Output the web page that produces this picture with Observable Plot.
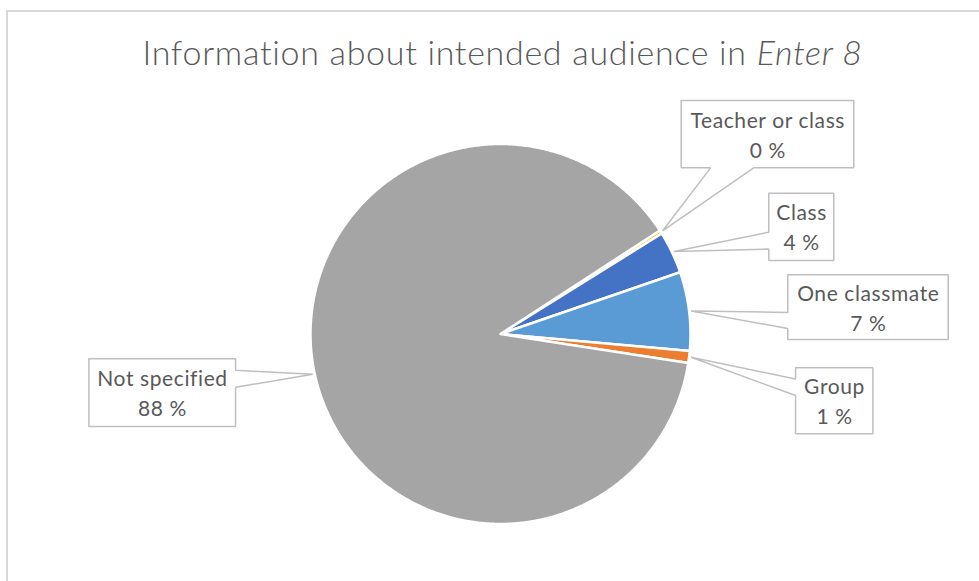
<!DOCTYPE html>
<html>
<head>
<meta charset="utf-8">
<script src="https://cdn.jsdelivr.net/npm/d3@7"></script>
<script src="https://cdn.jsdelivr.net/npm/@observablehq/plot@0.6"></script>
<style>
  html, body { margin: 0; padding: 0; background: #fff; }
  #wrap { position: relative; width: 979px; height: 581px; overflow: hidden; }
  #frame { position: absolute; left: 6px; top: 10px; width: 1200px; height: 800px;
           border-top: 2px solid #d9d9d9; border-left: 2px solid #d9d9d9; box-sizing: border-box; }
  #title { position: absolute; left: 0; width: 1005px; top: 31px; text-align: center;
           font-family: Lato, "Open Sans", sans-serif; font-weight: 300; font-size: 34px;
           letter-spacing: 0.7px; line-height: 41px; color: #595959; white-space: nowrap; z-index: 2; }
  #chart { position: absolute; left: 0; top: 0; z-index: 1; }
  #chart text { letter-spacing: 0.6px; }
</style>
</head>
<body>
<div id="wrap">
  <div id="frame"></div>
  <div id="chart"></div>
  <div id="title">Information about intended audience in <i>Enter 8</i></div>
</div>
<script>
// ---- data ----
const names  = ["Teacher or class", "Class", "One classmate", "Group", "Not specified"];
const values = [0.3, 3.6, 6.7, 1.0, 88.4];
const colors = ["#FFC000", "#4472C4", "#5B9BD5", "#ED7D31", "#A5A5A5"];

// ---- layout (pixel space of the 979x581 canvas) ----
const CX = 500, CY = 333.5, R = 190, START_DEG = 57;
const boxCX = [767, 800.8, 867.5, 833.7, 161.7];
const boxCY = [133.7, 226.3, 306.7, 400.3, 392.2];
const boxW  = [172.6, 65, 160.4, 77.3, 146.7];
const boxH  = [67.3, 67.3, 64.7, 66, 67.7];

const rows = names.map((n, i) => ({name: n, value: values[i]}));
const a0 = START_DEG * Math.PI / 180;
const arcs = d3.pie().sort(null).value(d => d.value).startAngle(a0).endAngle(a0 + 2 * Math.PI)(rows);

const pt = (t, r) => ({x: CX + r * Math.sin(t), y: CY - r * Math.cos(t)});

// slice polygons
const slicePts = arcs.flatMap(a => {
  const n = Math.max(2, Math.ceil((a.endAngle - a.startAngle) / (Math.PI / 360)));
  const pts = [{name: a.data.name, x: CX, y: CY}];
  for (let k = 0; k <= n; k++) {
    const t = a.startAngle + (a.endAngle - a.startAngle) * k / n;
    pts.push({name: a.data.name, ...pt(t, R)});
  }
  pts.push({name: a.data.name, x: CX, y: CY});
  return pts;
});

// callout polygons (rectangle + wedge toward slice mid-angle)
const labels = arcs.map((a, i) => {
  const mid = (a.startAngle + a.endAngle) / 2;
  return {name: a.data.name, value: a.data.value, tip: pt(mid, R + 2),
          cx: boxCX[i], cy: boxCY[i], w: boxW[i], h: boxH[i]};
});
const calloutPts = labels.flatMap(L => {
  const l = L.cx - L.w / 2, r = L.cx + L.w / 2, t = L.cy - L.h / 2, b = L.cy + L.h / 2;
  const dx = L.tip.x - L.cx, dy = L.tip.y - L.cy;
  const horiz = Math.abs(dx) / (L.w / 2) > Math.abs(dy) / (L.h / 2);
  let edge, f0, f1;
  if (horiz) {
    edge = dx > 0 ? "right" : "left";
    [f0, f1] = L.tip.y > L.cy ? [0.58, 0.83] : [0.17, 0.42];
  } else {
    edge = dy > 0 ? "bottom" : "top";
    [f0, f1] = L.tip.x > L.cx ? [0.58, 0.83] : [0.17, 0.42];
  }
  const P = (x, y) => ({name: L.name, x, y});
  const tip = P(L.tip.x, L.tip.y);
  const pts = [P(l, t)];
  if (edge === "top") pts.push(P(l + f0 * L.w, t), tip, P(l + f1 * L.w, t));
  pts.push(P(r, t));
  if (edge === "right") pts.push(P(r, t + f0 * L.h), tip, P(r, t + f1 * L.h));
  pts.push(P(r, b));
  if (edge === "bottom") pts.push(P(l + f1 * L.w, b), tip, P(l + f0 * L.w, b));
  pts.push(P(l, b));
  if (edge === "left") pts.push(P(l, t + f1 * L.h), tip, P(l, t + f0 * L.h));
  pts.push(P(l, t));
  return pts;
});

const chart = Plot.plot({
  width: 979,
  height: 581,
  margin: 0,
  style: {background: "transparent"},
  x: {domain: [0, 979], axis: null},
  y: {domain: [0, 581], reverse: true, axis: null},
  color: {domain: names, range: colors},
  marks: [
    Plot.line(slicePts, {x: "x", y: "y", z: "name", fill: "name", stroke: "white",
                         strokeWidth: 2.5, strokeLinejoin: "round"}),
    Plot.line(calloutPts, {x: "x", y: "y", z: "name", fill: "white", stroke: "#BFBFBF",
                           strokeWidth: 1.5, strokeLinejoin: "miter"}),
    Plot.text(labels, {x: "cx", y: "cy", text: d => d.name + "\n" + Math.round(d.value) + " %",
                       fontSize: 21, lineHeight: 1.43, fill: "#595959", dx: 0.3, dy: -1,
                       fontFamily: "Lato, 'Open Sans', sans-serif"})
  ]
});
document.getElementById("chart").appendChild(chart);
</script>
</body>
</html>
